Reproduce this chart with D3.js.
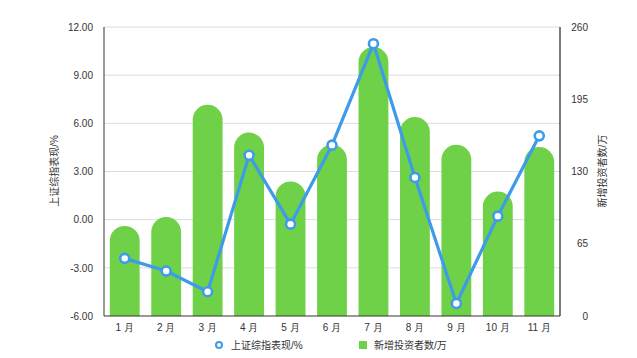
<!DOCTYPE html>
<html>
<head>
<meta charset="utf-8">
<script src="https://cdn.jsdelivr.net/npm/d3@7"></script>
<style>
html,body{margin:0;padding:0;background:#fff;}
svg{display:block;font-family:"Liberation Sans","Noto Sans CJK SC",sans-serif;}
</style>
</head>
<body>
<svg id="chart" width="637" height="358"></svg>
<script>
const months = ["1 月","2 月","3 月","4 月","5 月","6 月","7 月","8 月","9 月","10 月","11 月"];
const indexPerf = [-2.41, -3.2, -4.49, 4.01, -0.28, 4.64, 10.96, 2.63, -5.22, 0.22, 5.22];
const newInvestors = [81, 89, 190, 165, 121, 154, 242, 179, 154, 112, 152];
const leftTicks = [-6, -3, 0, 3, 6, 9, 12];
const rightTicks = [0, 65, 130, 195, 260];
const lineName = "上证综指表现/%";
const barName = "新增投资者数/万";

const W = 637, H = 358;
const m = {top: 27, right: 77, bottom: 42, left: 104};
const iw = W - m.left - m.right, ih = H - m.top - m.bottom;
const svg = d3.select("#chart");
const g = svg.append("g").attr("transform", `translate(${m.left},${m.top})`);

const x = d3.scaleBand().domain(months).range([0, iw]).paddingInner(0.28).paddingOuter(0.14);
const yL = d3.scaleLinear().domain([-6, 12]).range([ih, 0]);
const yR = d3.scaleLinear().domain([0, 260]).range([ih, 0]);

// gridlines
g.append("g").selectAll("line").data(leftTicks.filter(d => d > -6)).join("line")
  .attr("x1", 0).attr("x2", iw)
  .attr("y1", d => yL(d)).attr("y2", d => yL(d))
  .attr("stroke", "#dcdcdc").attr("stroke-width", 1);

// bars with rounded tops
const green = "#6fd148";
g.append("g").selectAll("path").data(newInvestors).join("path")
  .attr("fill", green)
  .attr("d", (d, i) => {
    const bx = x(months[i]), w = x.bandwidth(), r = w / 2;
    const y0 = yR(0), yt = yR(d);
    return `M${bx},${y0} L${bx},${yt + r} A${r},${r} 0 0 1 ${bx + w},${yt + r} L${bx + w},${y0} Z`;
  });

// line
const blue = "#3d9be9";
const line = d3.line().x((d, i) => x(months[i]) + x.bandwidth() / 2).y(d => yL(d));
g.append("path").datum(indexPerf).attr("d", line)
  .attr("fill", "none").attr("stroke", blue).attr("stroke-width", 3.2).attr("stroke-linejoin", "round");
g.append("g").selectAll("circle").data(indexPerf).join("circle")
  .attr("cx", (d, i) => x(months[i]) + x.bandwidth() / 2)
  .attr("cy", d => yL(d)).attr("r", 4.5)
  .attr("fill", "#fff").attr("stroke", blue).attr("stroke-width", 2.6);

// axes lines
g.append("line").attr("x1", 0).attr("x2", 0).attr("y1", 0).attr("y2", ih).attr("stroke", "#777").attr("stroke-width", 1.5);
g.append("line").attr("x1", iw).attr("x2", iw).attr("y1", 0).attr("y2", ih).attr("stroke", "#222").attr("stroke-width", 1.2);
g.append("line").attr("x1", 0).attr("x2", iw).attr("y1", ih).attr("y2", ih).attr("stroke", "#333").attr("stroke-width", 1.2);

// left axis labels
const fmt = d3.format(".2f");
const axL = d3.axisLeft(yL).tickValues(leftTicks).tickFormat(d => fmt(d).replace("\u2212", "-")).tickSize(0).tickPadding(11);
const gl = g.append("g").call(axL);
gl.select(".domain").remove();
gl.selectAll("text").attr("fill", "#333").style("font-size", "10px");

// right axis labels
const axR = d3.axisRight(yR).tickValues(rightTicks).tickSize(0).tickPadding(0);
const gr = g.append("g").attr("transform", `translate(${iw + 28},0)`).call(axR);
gr.select(".domain").remove();
gr.selectAll("text").attr("fill", "#333").style("font-size", "10px").attr("text-anchor", "end");

// x axis labels
const axB = d3.axisBottom(x).tickSize(0).tickPadding(8);
const gb = g.append("g").attr("transform", `translate(0,${ih})`).call(axB);
gb.select(".domain").remove();
gb.selectAll("text").attr("fill", "#333").style("font-size", "10px");

// axis titles
svg.append("text").attr("transform", "translate(58,171) rotate(-90)")
  .attr("text-anchor", "middle").attr("fill", "#333").style("font-size", "10px").text(lineName);
svg.append("text").attr("transform", "translate(606,171) rotate(-90)")
  .attr("text-anchor", "middle").attr("fill", "#333").style("font-size", "10px").text(barName);

// legend
const lg = svg.append("g");
lg.append("circle").attr("cx", 219).attr("cy", 345).attr("r", 3).attr("fill", "#fff").attr("stroke", blue).attr("stroke-width", 2);
lg.append("text").attr("x", 231).attr("y", 349).attr("fill", "#333").style("font-size", "10px").text(lineName);
lg.append("rect").attr("x", 359).attr("y", 341).attr("width", 8).attr("height", 8).attr("fill", green);
lg.append("text").attr("x", 374).attr("y", 349).attr("fill", "#333").style("font-size", "10px").text(barName);
</script>
</body>
</html>
